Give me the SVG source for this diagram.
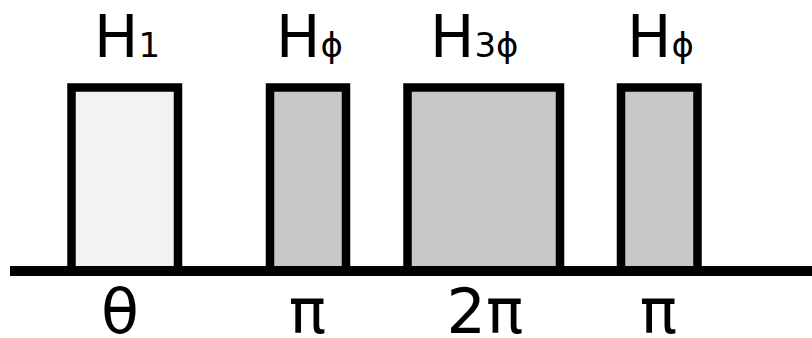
<svg xmlns="http://www.w3.org/2000/svg" width="812" height="338" viewBox="0 0 812 338">
<style>
.box{stroke:#000;stroke-width:8.5;stroke-linejoin:miter}
.light{fill:#f2f2f2}
.gray{fill:#c8c8c8}
.lbl{font-family:"DejaVu Sans",sans-serif;font-size:59px;fill:#000}
.sub{font-size:34px}
.bot{font-family:"DejaVu Sans",sans-serif;font-size:62px;fill:#000;text-anchor:middle}
</style>
<rect width="812" height="338" fill="#fff"/>
<g id="pulse-H1">
<rect class="box light" x="71.5" y="87.5" width="106.5" height="183.5"/>
<text class="lbl" x="94" y="57">H<tspan class="sub">1</tspan></text>
<text class="bot" x="120" y="333">θ</text>
</g>
<g id="pulse-Hphi-1">
<rect class="box gray" x="270" y="87.5" width="76" height="183.5"/>
<text class="lbl" x="276" y="57">H<tspan class="sub">ϕ</tspan></text>
<text class="bot" x="307.5" y="333">π</text>
</g>
<g id="pulse-H3phi">
<rect class="box gray" x="407.5" y="87.5" width="152.5" height="183.5"/>
<text class="lbl" x="430" y="57">H<tspan class="sub">3ϕ</tspan></text>
<text class="bot" x="485" y="333">2π</text>
</g>
<g id="pulse-Hphi-2">
<rect class="box gray" x="621" y="87.5" width="76.5" height="183.5"/>
<text class="lbl" x="627" y="57">H<tspan class="sub">ϕ</tspan></text>
<text class="bot" x="658.5" y="333">π</text>
</g>
<g id="connectors">
<line x1="10" y1="271" x2="812" y2="271" stroke="#000" stroke-width="10"/>
</g>
</svg>
